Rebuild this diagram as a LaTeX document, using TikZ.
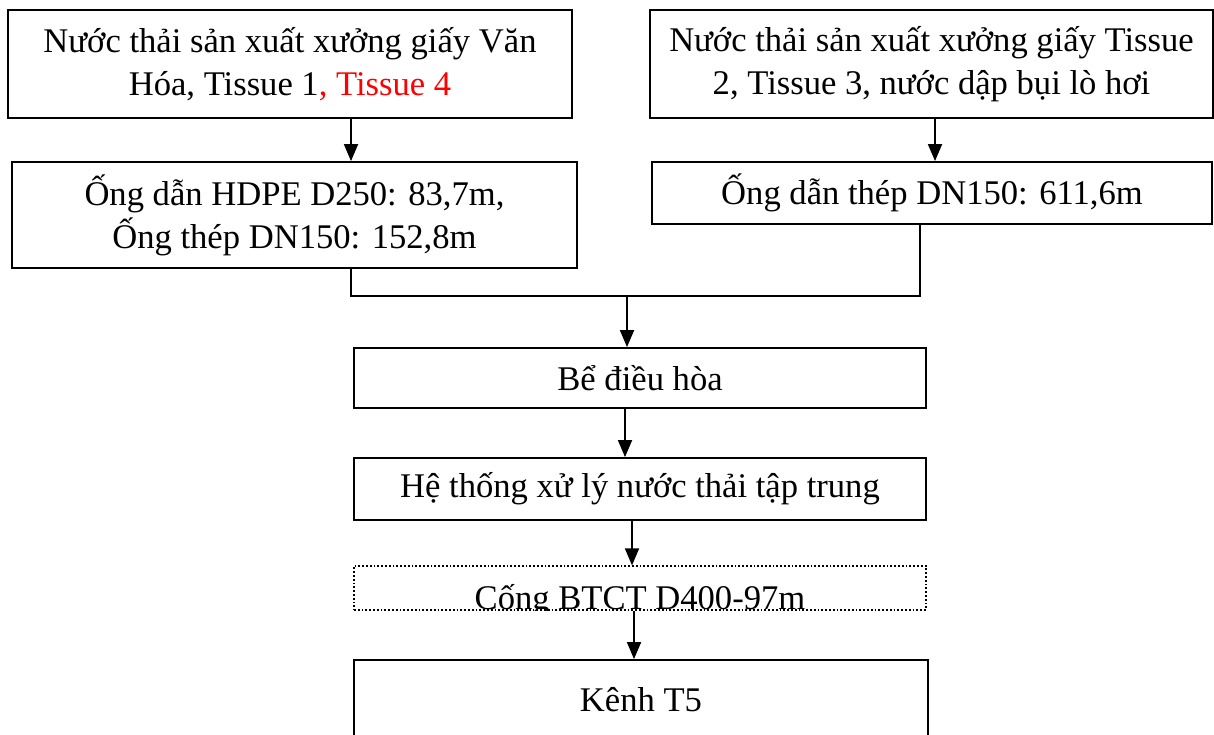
\documentclass[tikz,border=0pt]{standalone}
\usepackage{fontspec}
\setmainfont{Liberation Serif}
\usetikzlibrary{arrows.meta, calc}

\begin{document}
\begin{tikzpicture}[x=1pt, y=-1pt,
	box/.style={draw, line width=1.8pt, align=center, inner sep=0pt, font=\fontsize{34.6}{43}\selectfont},
	link/.style={line width=1.8pt},
	arr/.style={line width=1.8pt, -{Triangle[length=17pt, width=14pt]}}]
	\useasboundingbox (0,0) rectangle (1214,735);
	% top: sources
	\node[box, minimum width=564, minimum height=108] (src1) at (290,64)
		{Nước thải sản xuất xưởng giấy Văn\\Hóa, Tissue 1\textcolor{red}{, Tissue 4}};
	\node[box, minimum width=563, minimum height=108] (src2) at (931.5,64)
		{Nước thải sản xuất xưởng giấy Tissue\\2, Tissue 3, nước dập bụi lò hơi};
	% pipes
	\node[box, minimum width=565, minimum height=106] (pipe1) at (294.5,215)
		{Ống dẫn HDPE D250: 83,7m,\\Ống thép DN150: 152,8m};
	\node[box, minimum width=560, minimum height=62] (pipe2) at (932,193)
		{Ống dẫn thép DN150: 611,6m};
	% treatment line
	\node[box, minimum width=572, minimum height=60] (tank) at (640,378) {Bể điều hòa};
	\node[box, minimum width=572, minimum height=62] (wwtp) at (640,489) {Hệ thống xử lý nước thải tập trung};
	\node[box, dotted, line width=1.2pt, minimum width=572, minimum height=44] (sewer) at (640,588) {};
	\begin{scope}
		\clip (sewer.south west) rectangle (sewer.north east);
		\node[font=\fontsize{34.6}{43}\selectfont] (sewertext) at (640,601) {Cống BTCT D400-97m};
	\end{scope}
	\node[box, minimum width=574, minimum height=80] (canal) at (641,700) {Kênh T5};
	% connectors
	\coordinate (c1) at (351,0);
	\coordinate (c2) at (920,0);
	\coordinate (c3) at (935,0);
	\coordinate (c4) at (625,0);
	\coordinate (c5) at (632,0);
	\coordinate (c6) at (634,0);
	\coordinate (join) at (627,296);
	\draw[arr] (src1.south -| c1) -- (pipe1.north -| c1);
	\draw[arr] (src2.south -| c3) -- (pipe2.north -| c3);
	\draw[link] (pipe1.south -| c1) |- (join) -| (pipe2.south -| c2);
	\draw[arr] (join) -- (tank.north -| join);
	\draw[arr] (tank.south -| c4) -- (wwtp.north -| c4);
	\draw[arr] (wwtp.south -| c5) -- (sewer.north -| c5);
	\draw[arr] (sewer.south -| c6) -- (canal.north -| c6);
\end{tikzpicture}
\end{document}
